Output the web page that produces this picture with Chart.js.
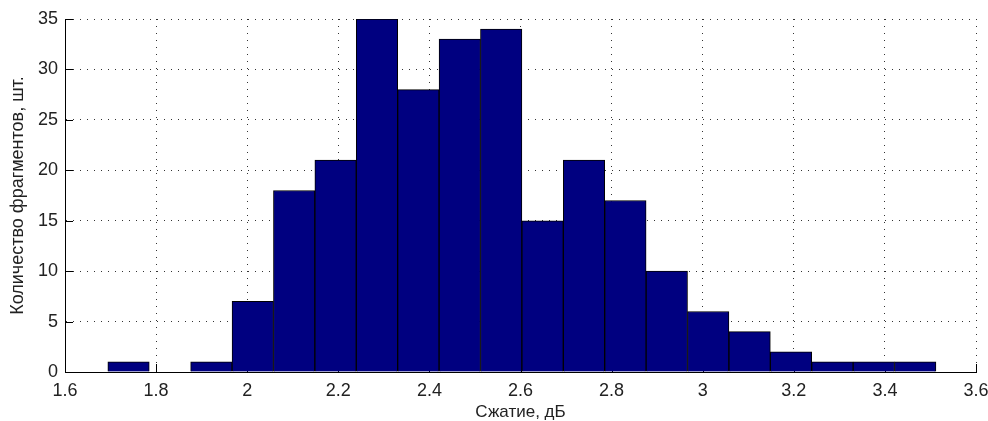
<!DOCTYPE html>
<html>
<head>
<meta charset="utf-8">
<script src="https://cdn.jsdelivr.net/npm/chart.js@4.4.1/dist/chart.umd.min.js"></script>
<style>
  html, body { margin: 0; padding: 0; background: #fff; }
  #wrap { width: 988px; height: 421px; }
</style>
</head>
<body>
<div id="wrap"><canvas id="histChart"></canvas></div>
<script>
// bin centres (dB) and counts
var binCenters = [1.7395, 1.8304, 1.9213, 2.0122, 2.1031, 2.1940, 2.2849, 2.3758, 2.4667, 2.5576,
                  2.6485, 2.7394, 2.8303, 2.9212, 3.0121, 3.1030, 3.1939, 3.2848, 3.3757, 3.4666];
var counts = [1, 0, 1, 7, 18, 21, 35, 28, 33, 34, 15, 21, 17, 10, 6, 4, 2, 1, 1, 1];
var xTickLabels = ['1.6', '1.8', '2', '2.2', '2.4', '2.6', '2.8', '3', '3.2', '3.4', '3.6'];
var yTickLabels = ['0', '5', '10', '15', '20', '25', '30', '35'];

var points = binCenters.map(function(c, i) { return { x: c, y: counts[i] }; });

// small inward tick marks like matlab
var innerTicks = {
  id: 'innerTicks',
  beforeDatasetsDraw: function(chart) {
    var ctx = chart.ctx, a = chart.chartArea;
    var xs = chart.scales.x, ys = chart.scales.y;
    ctx.save();
    ctx.strokeStyle = '#000';
    ctx.lineWidth = 1;
    ctx.beginPath();
    xs.ticks.forEach(function(t) {
      var px = Math.round(xs.getPixelForValue(t.value)) + 0.5;
      ctx.moveTo(px, a.bottom);
      ctx.lineTo(px, a.bottom - 8);
    });
    ys.ticks.forEach(function(t) {
      var py = Math.round(ys.getPixelForValue(t.value)) + 0.5;
      ctx.moveTo(a.left, py);
      ctx.lineTo(a.left + 8, py);
    });
    ctx.stroke();
    ctx.restore();
  }
};

Chart.defaults.font.family = '"Liberation Sans", Arial, sans-serif';
Chart.defaults.color = '#222';

new Chart(document.getElementById('histChart'), {
  type: 'bar',
  data: {
    datasets: [{
      data: points,
      backgroundColor: '#000080',
      borderColor: '#000000',
      borderWidth: 1,
      barPercentage: 1,
      categoryPercentage: 1
    }]
  },
  options: {
    responsive: true,
    maintainAspectRatio: false,
    animation: false,
    layout: { padding: { left: 0, right: 12, top: 19, bottom: 0 } },
    plugins: { legend: { display: false }, tooltip: { enabled: false } },
    scales: {
      x: {
        type: 'linear',
        min: 1.6,
        max: 3.6,
        offset: false,
        grid: { color: '#333', lineWidth: 1, drawTicks: false, offset: false },
        border: { display: true, color: '#000', width: 1, dash: [1, 6] },
        ticks: {
          stepSize: 0.2,
          padding: 8,
          font: { size: 18 },
          callback: function(v, i) { return xTickLabels[i]; }
        },
        title: {
          display: true,
          text: 'Сжатие, дБ',
          font: { size: 17, lineHeight: 1 },
          padding: { top: 0, bottom: 0 }
        },
        afterFit: function(s) { s.height = 49; s.paddingLeft = 0; s.paddingRight = 0; }
      },
      y: {
        min: 0,
        max: 35,
        grid: { color: '#333', lineWidth: 1, drawTicks: false },
        border: { display: true, color: '#000', width: 1, dash: [1, 6] },
        ticks: {
          stepSize: 5,
          padding: 7,
          font: { size: 18 },
          callback: function(v, i) { return yTickLabels[i]; }
        },
        title: {
          display: true,
          text: 'Количество фрагментов, шт.',
          font: { size: 18, lineHeight: 1 },
          padding: { top: 9, bottom: 0 }
        },
        afterFit: function(s) { s.width = 65; s.paddingTop = 0; s.paddingBottom = 0; }
      }
    }
  },
  plugins: [innerTicks]
});
</script>
</body>
</html>
